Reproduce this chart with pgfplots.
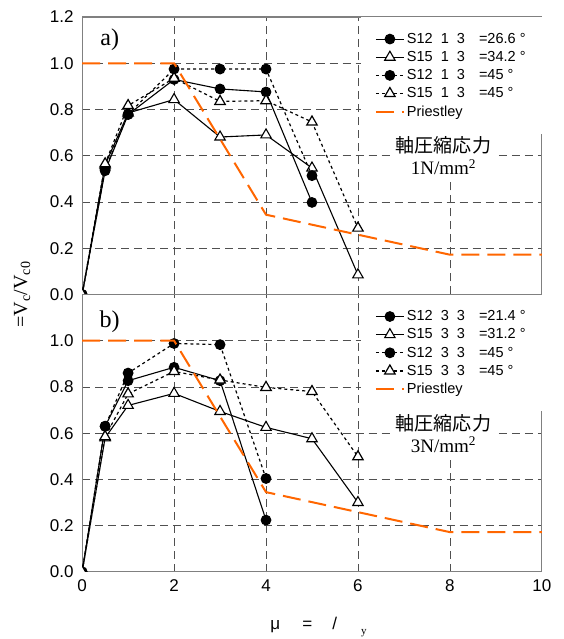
\documentclass[border=0pt]{standalone}
\usepackage{fontspec}
\setmainfont{Liberation Serif}
\setsansfont{Liberation Sans}
\newfontfamily\cjk{Noto Sans CJK JP}
\usepackage{pgfplots}
\pgfplotsset{compat=1.18}
\definecolor{gridgray}{HTML}{505050}
\definecolor{priestley}{HTML}{FF6600}

\pgfplotsset{
  panel/.style={
    scale only axis, width=459pt, height=277pt,
    xmin=0, xmax=10, ymin=0, ymax=1.2,
    xtick={0,2,4,6,8,10},
    grid=major,
    grid style={gridgray, dash pattern=on 8pt off 5pt, line width=0.8pt},
    axis line style={gray, line width=1.2pt},
    major tick length=0pt,
    clip marker paths=true,
    tick label style={font=\sffamily\fontsize{17}{17}\selectfont},
    xticklabel style={yshift=-4pt},
    /pgf/number format/assume math mode=true,
    yticklabel style={xshift=-5pt, /pgf/number format/.cd, fixed, fixed zerofill, precision=1},
    legend style={at={(1,1)}, anchor=north east, draw=none, fill=white,
      font=\sffamily\fontsize{14.5}{14.5}\selectfont,
      inner xsep=14pt, inner ysep=14pt, row sep=2.5pt,
      nodes={inner ysep=2pt}},
    legend cell align=left,
    legend image code/.code={\draw[mark repeat=2,mark phase=2,##1]
      plot coordinates {(0pt,0pt) (14pt,0pt) (28pt,0pt)};},
  },
  s1/.style={black, line width=1.1pt, mark=*, mark size=4.8pt, mark options={solid, fill=black}},
  s2/.style={black, line width=1.1pt, mark=triangle*, mark size=6pt, mark options={solid, fill=white}},
  s3/.style={black, line width=1.2pt, dash pattern=on 3pt off 3pt, mark=*, mark size=4.8pt, mark options={solid, fill=black}},
  s4/.style={black, line width=1.2pt, dash pattern=on 3pt off 3pt, mark=triangle*, mark size=6pt, mark options={solid, fill=white}},
  pr/.style={priestley, line width=2pt, dash pattern=on 18pt off 8pt},
}
\newcommand{\lab}[2]{\makebox[72pt][l]{#1}#2}

\begin{document}
\begin{tikzpicture}
\useasboundingbox (-82pt,-67pt) rectangle (481pt,571pt);
% a) 1N/mm2
\begin{axis}[panel, at={(0pt,277pt)}, xticklabels={}, ytick={0,0.2,0.4,0.6,0.8,1.0,1.2}]
\addplot[s1] coordinates {(0,0) (0.5,0.535) (1,0.778) (2,0.93) (3,0.889) (4,0.876) (5,0.398)};
\addlegendentry{\lab{S12\ \ 1\ \ 3}{=26.6 °}}
\addplot[s2] coordinates {(0,0) (0.5,0.56) (1,0.785) (2,0.843) (3,0.681) (4,0.69) (5,0.547) (6,0.085)};
\addlegendentry{\lab{S15\ \ 1\ \ 3}{=34.2 °}}
\addplot[s3] coordinates {(0,0) (0.5,0.54) (1,0.78) (2,0.975) (3,0.975) (4,0.975) (5,0.514)};
\addlegendentry{\lab{S12\ \ 1\ \ 3}{=45 °}}
\addplot[s4] coordinates {(0,0) (0.5,0.565) (1,0.817) (2,0.935) (3,0.835) (4,0.838) (5,0.746) (6,0.287)};
\addlegendentry{\lab{S15\ \ 1\ \ 3}{=45 °}}
\addplot[pr] coordinates {(0,1) (2,1) (4,0.345) (8,0.172) (10,0.172)};
\addlegendentry{Priestley}
\node[font=\rmfamily\fontsize{24}{24}\selectfont] at (axis cs:0.6,1.1) {a)};
\node[fill=white, align=center, inner sep=3pt, font=\fontsize{19}{22}\selectfont]
  at (axis cs:7.86,0.6) {{\cjk 軸圧縮応力}\\1N/mm\textsuperscript{2}};
\end{axis}
% b) 3N/mm2
\begin{axis}[panel, ytick={0,0.2,0.4,0.6,0.8,1.0}]
\addplot[s1] coordinates {(0,0) (0.5,0.63) (1,0.827) (2,0.885) (3,0.827) (4,0.224)};
\addlegendentry{\lab{S12\ \ 3\ \ 3}{=21.4 °}}
\addplot[s2] coordinates {(0,0) (0.5,0.58) (1,0.72) (2,0.772) (3,0.694) (4,0.625) (5,0.576) (6,0.30)};
\addlegendentry{\lab{S15\ \ 3\ \ 3}{=31.2 °}}
\addplot[s3] coordinates {(0,0) (0.5,0.63) (1,0.86) (2,0.988) (3,0.983) (4,0.404)};
\addlegendentry{\lab{S12\ \ 3\ \ 3}{=45 °}}
\addplot[s4] coordinates {(0,0) (0.5,0.585) (1,0.77) (2,0.867) (3,0.83) (4,0.798) (5,0.78) (6,0.498)};
\addlegendentry{\lab{S15\ \ 3\ \ 3}{=45 °}}
\addplot[pr] coordinates {(0,1) (2,1) (4,0.345) (8,0.172) (10,0.172)};
\addlegendentry{Priestley}
\node[font=\rmfamily\fontsize{24}{24}\selectfont] at (axis cs:0.6,1.08) {b)};
\node[fill=white, align=center, inner sep=3pt, font=\fontsize{19}{22}\selectfont]
  at (axis cs:7.86,0.6) {{\cjk 軸圧縮応力}\\3N/mm\textsuperscript{2}};
\end{axis}
\node[rotate=90, font=\rmfamily\fontsize{20}{20}\selectfont] at (-60pt,277pt) {=V\textsubscript{c}/V\textsubscript{c0}};
\node[font=\sffamily\fontsize{17}{17}\selectfont] at (236pt,-55pt)
  {μ\hspace{22pt}=\hspace{20pt}/\hspace{24pt}\raisebox{-5pt}{\rmfamily\fontsize{11}{11}\selectfont y}};
\end{tikzpicture}
\end{document}
